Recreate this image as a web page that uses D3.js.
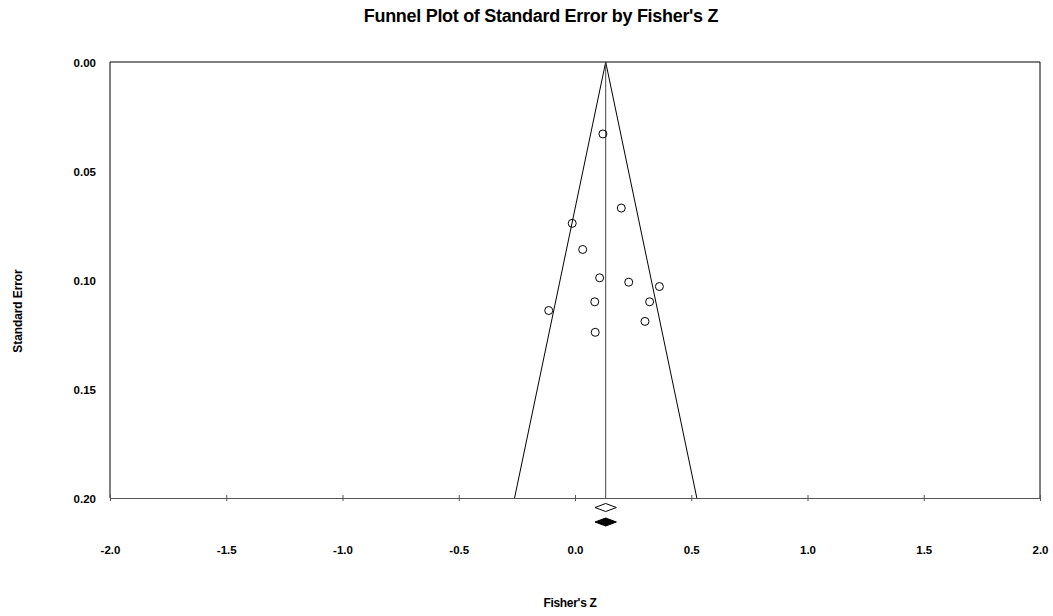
<!DOCTYPE html>
<html>
<head>
<meta charset="utf-8">
<title>Funnel Plot of Standard Error by Fisher's Z</title>
<script src="https://d3js.org/d3.v7.min.js"></script>
<style>
    body { margin: 0; background: #fff; }
    svg text { font-family: "Liberation Sans", Arial, sans-serif; font-weight: bold; fill: #000; }
</style>
</head>
<body>
<div id="chart"></div>
<script>
// studies: Fisher's Z and standard error
const fisherZ = [0.120, 0.199, -0.012, 0.033, 0.106, 0.231, 0.363, 0.321, 0.085, -0.113, 0.301, 0.087];
const stdErr  = [0.033, 0.067, 0.074, 0.086, 0.099, 0.101, 0.103, 0.110, 0.110, 0.114, 0.119, 0.124];

// combined estimate (observed and imputed diamonds)
const meanZ = 0.132;
const diamonds = [
    { est: 0.132, lo: 0.086, hi: 0.178, filled: false },
    { est: 0.132, lo: 0.086, hi: 0.178, filled: true }
];

const xTicks = [-2.0, -1.5, -1.0, -0.5, 0.0, 0.5, 1.0, 1.5, 2.0];
const yTicks = [0.00, 0.05, 0.10, 0.15, 0.20];

const width = 1053, height = 616;
const margin = { top: 62, right: 13, bottom: 118, left: 110 };

const svg = d3.select("#chart").append("svg")
    .attr("width", width)
    .attr("height", height);

const x = d3.scaleLinear().domain([-2, 2]).range([margin.left, width - margin.right]);
const y = d3.scaleLinear().domain([0, 0.2]).range([margin.top, height - margin.bottom]);

// plain hyphen for negatives, like the original
const fmt1 = d => d.toFixed(1);
const fmt2 = d => d.toFixed(2);

// frame: top, left, right lines
svg.append("path")
    .attr("d", `M${x(-2)},${y(0.2)}V${y(0)}H${x(2)}V${y(0.2)}`)
    .attr("fill", "none")
    .attr("stroke", "#000")
    .attr("stroke-width", 1);

// bottom axis
const xAxis = svg.append("g")
    .attr("transform", `translate(0,${y(0.2)})`)
    .call(d3.axisBottom(x).tickValues(xTicks).tickSize(0).tickFormat(fmt1));
xAxis.select(".domain").attr("stroke", "#555");
xAxis.selectAll(".tick line").remove();
xAxis.selectAll(".tick").append("line")
    .attr("y1", -3).attr("y2", 3)
    .attr("stroke", "#555");
xAxis.selectAll(".tick text")
    .attr("y", 56)
    .attr("dy", 0)
    .style("font-size", "11.5px");

// left axis labels
const yAxis = svg.append("g")
    .attr("transform", `translate(${margin.left},0)`)
    .call(d3.axisLeft(y).tickValues(yTicks).tickSize(0).tickFormat(fmt2));
yAxis.select(".domain").remove();
yAxis.selectAll(".tick text")
    .attr("x", -14)
    .attr("dy", "0.4em")
    .style("font-size", "11.5px");

// funnel (95% limits) and mean line
const funnel = d3.line().x(d => x(d[0])).y(d => y(d[1]));
svg.append("path")
    .attr("d", funnel([[meanZ - 1.96 * 0.2, 0.2], [meanZ, 0], [meanZ + 1.96 * 0.2, 0.2]]))
    .attr("fill", "none")
    .attr("stroke", "#000")
    .attr("stroke-width", 1);
svg.append("line")
    .attr("x1", x(meanZ)).attr("x2", x(meanZ))
    .attr("y1", y(0)).attr("y2", y(0.2))
    .attr("stroke", "#444")
    .attr("stroke-width", 1);

// study points
svg.append("g").selectAll("circle")
    .data(fisherZ.map((z, i) => [z, stdErr[i]]))
    .join("circle")
    .attr("cx", d => x(d[0]))
    .attr("cy", d => y(d[1]))
    .attr("r", 4)
    .attr("fill", "none")
    .attr("stroke", "#000")
    .attr("stroke-width", 1);

// diamonds under the axis
svg.append("g").selectAll("path")
    .data(diamonds)
    .join("path")
    .attr("d", (d, i) => {
        const cy = y(0.2) + 9.5 + i * 14.5;
        return `M${x(d.lo)},${cy}L${x(d.est)},${cy - 4}L${x(d.hi)},${cy}L${x(d.est)},${cy + 4}Z`;
    })
    .attr("fill", d => d.filled ? "#000" : "#fff")
    .attr("stroke", "#000")
    .attr("stroke-width", 1);

// titles
svg.append("text")
    .attr("x", 541).attr("y", 22)
    .attr("text-anchor", "middle")
    .style("font-size", "18px")
    .style("letter-spacing", "-0.3px")
    .text("Funnel Plot of Standard Error by Fisher's Z");

svg.append("text")
    .attr("x", 570).attr("y", 607)
    .attr("text-anchor", "middle")
    .style("font-size", "12px")
    .style("letter-spacing", "-0.3px")
    .text("Fisher's Z");

svg.append("text")
    .attr("transform", "translate(22,311) rotate(-90)")
    .attr("text-anchor", "middle")
    .style("font-size", "12px")
    .style("letter-spacing", "-0.1px")
    .text("Standard Error");
</script>
</body>
</html>
